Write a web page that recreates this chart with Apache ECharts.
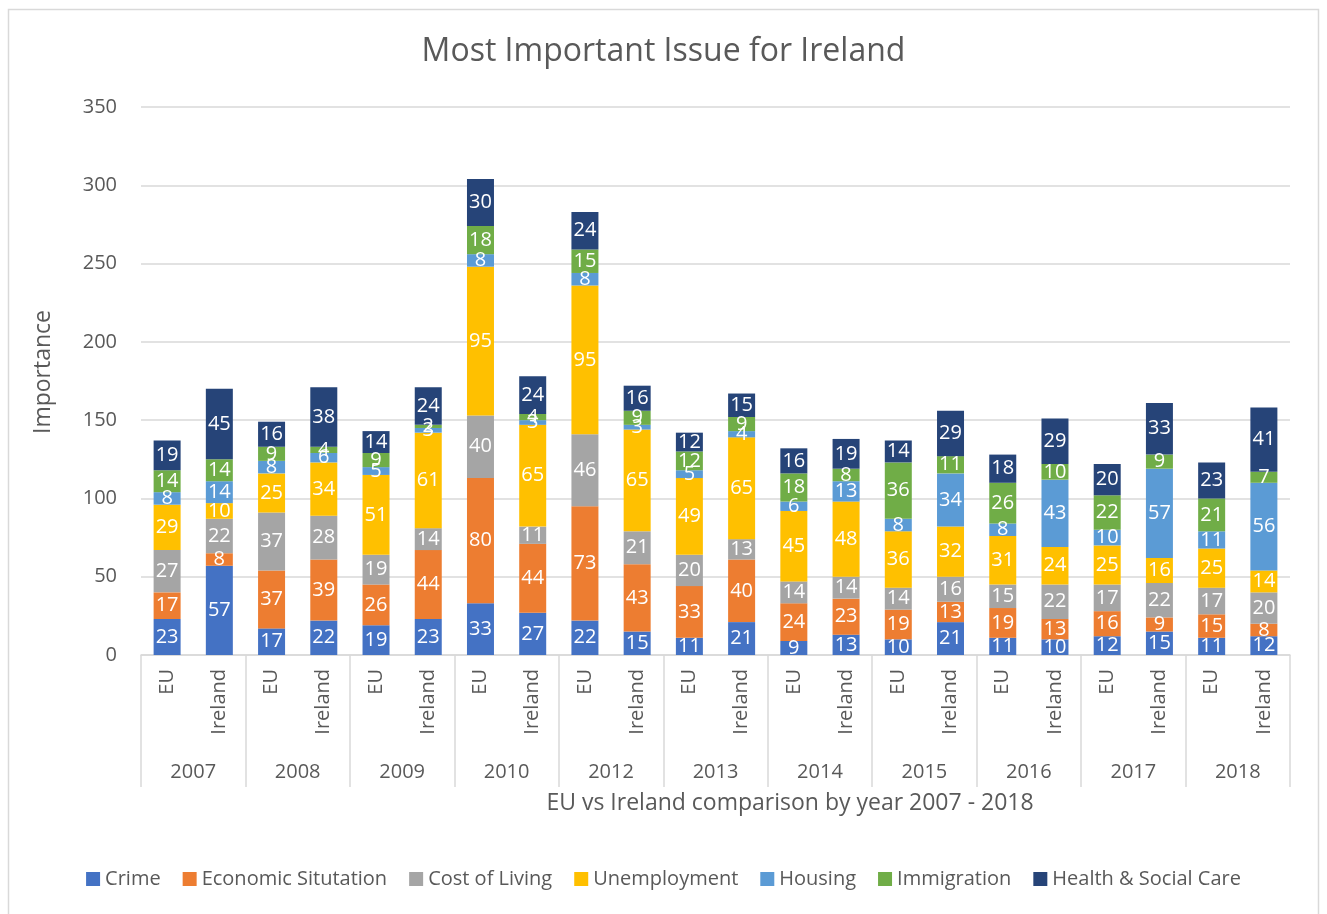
<!DOCTYPE html>
<html>
<head>
<meta charset="utf-8">
<script src="https://cdn.jsdelivr.net/npm/echarts@6/dist/echarts.min.js"></script>
<style>html,body{margin:0;padding:0;background:#fff}#c{width:1327px;height:914px}</style>
</head>
<body>
<div id="c"></div>
<script>
const years = ['2007','2008','2009','2010','2012','2013','2014','2015','2016','2017','2018'];
const regions = ['EU','Ireland'];
const categories = years.flatMap(() => regions);
const crime        = [23,57, 17,22, 19,23, 33,27, 22,15, 11,21,  9,13, 10,21, 11,10, 12,15, 11,12];
const economic     = [17, 8, 37,39, 26,44, 80,44, 73,43, 33,40, 24,23, 19,13, 19,13, 16, 9, 15, 8];
const costOfLiving = [27,22, 37,28, 19,14, 40,11, 46,21, 20,13, 14,14, 14,16, 15,22, 17,22, 17,20];
const unemployment = [29,10, 25,34, 51,61, 95,65, 95,65, 49,65, 45,48, 36,32, 31,24, 25,16, 25,14];
const housing      = [ 8,14,  8, 6,  5, 3,  8, 3,  8, 3,  5, 4,  6,13,  8,34,  8,43, 10,57, 11,56];
const immigration  = [14,14,  9, 4,  9, 2, 18, 4, 15, 9, 12, 9, 18, 8, 36,11, 26,10, 22, 9, 21, 7];
const health       = [19,45, 16,38, 14,24, 30,24, 24,16, 12,15, 16,19, 14,29, 18,29, 20,33, 23,41];
const seriesNames = ['Crime','Economic Situtation','Cost of Living','Unemployment','Housing','Immigration','Health & Social Care'];
const seriesData = [crime, economic, costOfLiving, unemployment, housing, immigration, health];
const colors = ['#4472C4','#ED7D31','#A5A5A5','#FFC000','#5B9BD5','#70AD47','#264478'];
const yTicks = [0,50,100,150,200,250,300,350];

const FONT = '"Open Sans"';
const TXT = '#595959';
const GRID = '#d9d9d9';
const chart = echarts.init(document.getElementById('c'), null, {renderer:'canvas'});
chart.setOption({
  animation:false,
  color: colors,
  textStyle:{fontFamily:FONT},
  title:{text:'Most Important Issue for Ireland', left:'center', top:31,
    textStyle:{fontFamily:FONT, fontSize:32, fontWeight:'normal', color:TXT}},
  legend:{bottom:20, left:'center', itemWidth:14, itemHeight:14, itemGap:22,
    icon:'rect', textStyle:{fontFamily:FONT, fontSize:20, color:TXT}, data:seriesNames},
  grid:{left:141, right:37, top:107, bottom:259},
  xAxis:[
    {type:'category', data:categories, axisTick:{show:false},
     axisLine:{lineStyle:{color:GRID, width:1.5}},
     axisLabel:{rotate:90, margin:14, fontSize:20, color:TXT, fontFamily:FONT, interval:0}},
    {type:'category', data:years, position:'bottom',
     axisLine:{show:false},
     axisTick:{show:true, length:132, interval:0, lineStyle:{color:GRID, width:1.5}},
     axisLabel:{margin:107, fontSize:20, color:TXT, fontFamily:FONT, interval:0}}
  ],
  yAxis:{type:'value', min:yTicks[0], max:yTicks[yTicks.length-1], interval:50,
    axisLine:{show:false}, axisTick:{show:false},
    splitLine:{lineStyle:{color:GRID, width:1.5}},
    axisLabel:{margin:24, fontSize:20, color:TXT, fontFamily:FONT}},
  graphic:[
    {type:'rect', shape:{x:8.5, y:9.5, width:1310, height:910}, style:{fill:'none', stroke:GRID, lineWidth:1.5}, silent:true},
    {type:'text', x:43, y:372, rotation:Math.PI/2, style:{text:'Importance', fontFamily:FONT, fontSize:23, fill:TXT, textAlign:'center', textVerticalAlign:'middle'}},
    {type:'text', x:790, y:803, style:{text:'EU vs Ireland comparison by year 2007 - 2018', fontFamily:FONT, fontSize:23, fill:TXT, textAlign:'center', textVerticalAlign:'middle'}}
  ],
  series: seriesNames.map((n,i)=>({
    name:n, type:'bar', stack:'total', xAxisIndex:0, barWidth:27,
    data: seriesData[i],
    itemStyle:{color:colors[i]},
    label:{show:true, position:'inside', color:'#fff', fontSize:20, fontFamily:FONT}
  }))
});
</script>
</body>
</html>
